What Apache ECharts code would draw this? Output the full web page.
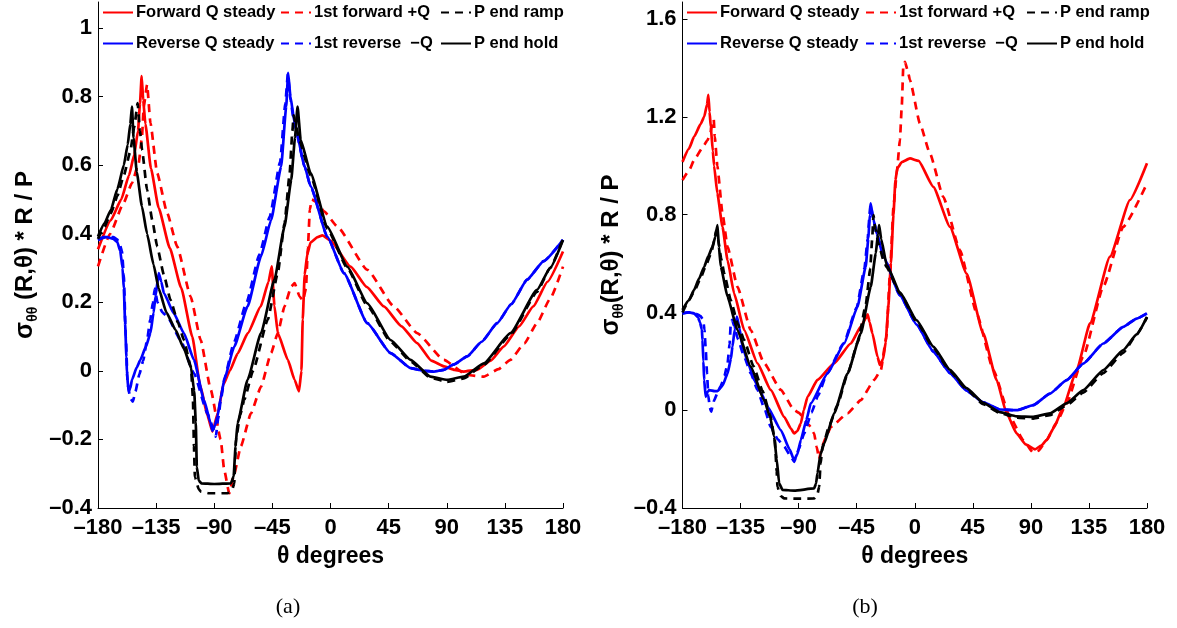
<!DOCTYPE html>
<html>
<head>
<meta charset="utf-8">
<script src="https://cdn.jsdelivr.net/npm/echarts@6/dist/echarts.min.js"></script>
<style>html,body{margin:0;padding:0;background:#fff}#c{width:1177px;height:628px}</style>
</head>
<body>
<div id="c"></div>
<script>
// ---------- tick labels ----------
const xTicks = [-180, -135, -90, -45, 0, 45, 90, 135, 180];
const yTicksA = [-0.4, -0.2, 0, 0.2, 0.4, 0.6, 0.8, 1];
const yTicksB = [-0.4, 0, 0.4, 0.8, 1.2, 1.6];
const seriesNames = ['Forward Q steady', '1st forward +Q', 'P end ramp', 'Reverse Q steady', '1st reverse  \u2212Q', 'P end hold'];
const captions = ['(a)', '(b)'];

// ---------- panel (a) values [theta, sigma*R/P] ----------
const aFwdSteady = [[-180,0.355],[-170,0.44],[-162,0.50],[-156,0.57],[-152,0.63],[-149,0.70],[-147.5,0.78],[-146.2,0.86],[-145,0.79],[-143.3,0.72],[-139,0.59],[-133,0.475],[-124.4,0.358],[-115.6,0.242],[-107,0.10],[-101,-0.04],[-95.3,-0.13],[-91.4,-0.177],[-87,-0.12],[-83,-0.04],[-78,0.0],[-72,0.05],[-64,0.11],[-54,0.188],[-48,0.26],[-45.5,0.305],[-43.4,0.19],[-40.8,0.11],[-33,0.032],[-27.8,-0.026],[-24.4,-0.06],[-22.5,0.0],[-21.5,0.15],[-20,0.28],[-18,0.34],[-15.4,0.375],[-10,0.39],[-6.3,0.395],[0,0.38],[15.6,0.304],[28,0.245],[41.3,0.188],[55,0.13],[67,0.081],[78,0.03],[88,0.013],[96,0.003],[103,-0.002],[113.5,0.003],[124,0.03],[134,0.071],[146,0.13],[157,0.188],[168,0.26],[180,0.348]];
const aFwdFirst = [[-180,0.305],[-170.6,0.40],[-160.2,0.49],[-153.7,0.548],[-148.5,0.606],[-146,0.68],[-144.6,0.77],[-142,0.835],[-139.4,0.723],[-134.2,0.577],[-126.4,0.46],[-118.7,0.363],[-108.3,0.217],[-100.5,0.09],[-92.7,-0.055],[-85,-0.2],[-82.3,-0.289],[-78.4,-0.357],[-74.5,-0.3],[-69.4,-0.22],[-61.6,-0.124],[-53.8,-0.046],[-46,0.052],[-40.8,0.11],[-35.6,0.188],[-30.4,0.246],[-27.8,0.256],[-23.9,0.217],[-21.3,0.205],[-19,0.24],[-17.5,0.36],[-16,0.47],[-14.5,0.50],[-10,0.49],[-5,0.465],[5.3,0.421],[28.5,0.295],[49.1,0.188],[67.1,0.11],[87.7,0.032],[105.8,-0.012],[118.7,-0.017],[130,0.005],[139.3,0.032],[150,0.08],[159.9,0.139],[170,0.21],[180,0.304]];
const aRevSteady = [[-180,0.382],[-176,0.39],[-173,0.39],[-168,0.385],[-165,0.375],[-162.8,0.35],[-161,0.30],[-160,0.24],[-159,0.139],[-158,0.04],[-157.6,-0.007],[-156.3,-0.06],[-155,-0.05],[-153.7,-0.026],[-150,0.01],[-147.2,0.032],[-143,0.07],[-139.4,0.11],[-137,0.17],[-135.5,0.217],[-133,0.285],[-131,0.26],[-129,0.227],[-121.3,0.168],[-113.5,0.11],[-105.7,0.032],[-97.9,-0.085],[-93,-0.15],[-91.4,-0.175],[-89.5,-0.16],[-87.5,-0.133],[-85,-0.08],[-82.3,-0.026],[-74.5,0.071],[-64.2,0.188],[-53.8,0.334],[-46,0.44],[-38.2,0.596],[-34.3,0.771],[-32.8,0.869],[-31,0.80],[-27.8,0.723],[-20,0.596],[-15.4,0.538],[-2.5,0.392],[10.4,0.285],[28.5,0.139],[46.5,0.052],[62,0.008],[72,0.0],[80,-0.002],[87.7,0.003],[95,0.018],[105.8,0.042],[117,0.085],[129,0.139],[140,0.195],[152.2,0.266],[165,0.32],[180,0.382]];
const aRevFirst = [[-180,0.382],[-174,0.39],[-168,0.39],[-164,0.38],[-161.5,0.35],[-160,0.28],[-158.5,0.10],[-157,-0.04],[-155,-0.08],[-153,-0.09],[-151,-0.06],[-148,-0.01],[-145,0.03],[-142,0.09],[-139.5,0.15],[-137.5,0.20],[-136,0.24],[-134,0.20],[-130,0.17],[-126.4,0.159],[-116.1,0.09],[-105.7,-0.007],[-95.3,-0.124],[-90.5,-0.17],[-88.8,-0.192],[-87,-0.14],[-84.9,-0.085],[-82,-0.02],[-75,0.08],[-65,0.20],[-55,0.34],[-47,0.45],[-39,0.61],[-35,0.78],[-33,0.865],[-31,0.79],[-28,0.72],[-20,0.596],[-15.4,0.538],[-2.5,0.392],[10.4,0.285],[28.5,0.139],[46.5,0.052],[62,0.008],[72,0.0],[80,-0.002],[87.7,0.003],[95,0.018],[105.8,0.042],[117,0.085],[129,0.139],[140,0.195],[152.2,0.266],[165,0.32],[180,0.382]];
const aPRamp = [[-180,0.385],[-175,0.42],[-170,0.46],[-165,0.51],[-160,0.57],[-155,0.64],[-152,0.71],[-149.3,0.781],[-147.5,0.70],[-145.9,0.645],[-142,0.528],[-138,0.44],[-134.2,0.363],[-129,0.28],[-123.9,0.207],[-118,0.14],[-113.5,0.09],[-108,0.01],[-106.5,-0.08],[-105.7,-0.22],[-105,-0.31],[-102,-0.345],[-100.5,-0.352],[-94,-0.357],[-79.7,-0.357],[-76,-0.345],[-74.5,-0.328],[-73.8,-0.26],[-73.2,-0.2],[-70,-0.13],[-66.8,-0.085],[-60,0.0],[-48.6,0.149],[-40.8,0.285],[-35.6,0.43],[-31.7,0.572],[-29.5,0.70],[-28.5,0.745],[-27,0.72],[-24,0.67],[-15.4,0.57],[-2.5,0.415],[13,0.30],[28.5,0.19],[46.5,0.085],[62,0.028],[77.4,-0.02],[90.3,-0.032],[103.2,-0.022],[118.7,0.018],[139.3,0.105],[159.9,0.23],[170,0.30],[180,0.385]];
const aPHold = [[-180,0.392],[-175,0.43],[-170,0.47],[-165,0.53],[-160,0.60],[-157,0.66],[-155,0.72],[-153.7,0.771],[-152.5,0.68],[-150,0.58],[-146,0.48],[-142,0.40],[-137,0.31],[-133,0.24],[-127,0.17],[-120,0.12],[-113.5,0.065],[-108,0.01],[-105.5,-0.06],[-104.3,-0.15],[-103.5,-0.28],[-102,-0.32],[-100,-0.328],[-90,-0.33],[-77.1,-0.328],[-75,-0.308],[-73.5,-0.22],[-72,-0.153],[-64.2,-0.026],[-53.8,0.11],[-43.4,0.266],[-35.6,0.421],[-30.4,0.557],[-27.5,0.68],[-25.5,0.771],[-23.1,0.674],[-15.4,0.577],[-2.5,0.421],[13,0.304],[28.5,0.197],[46.5,0.09],[62,0.032],[77.4,-0.017],[90.3,-0.026],[103.2,-0.017],[118.7,0.022],[139.3,0.11],[159.9,0.236],[170,0.30],[180,0.382]];

// ---------- panel (b) values ----------
const bFwdSteady = [[-180,1.016],[-175,1.07],[-171,1.119],[-166,1.17],[-163.2,1.20],[-161,1.25],[-160,1.29],[-159,1.22],[-158.1,1.16],[-156.5,1.06],[-155.5,1.0],[-153,0.887],[-149,0.75],[-145.1,0.614],[-140,0.478],[-132.2,0.328],[-121.9,0.192],[-111.6,0.083],[-101.2,-0.027],[-96,-0.075],[-93.5,-0.095],[-91,-0.085],[-88.3,-0.054],[-86,0.0],[-83.1,0.055],[-75.4,0.124],[-62.5,0.192],[-49.6,0.273],[-41.8,0.342],[-38,0.375],[-36.5,0.392],[-35,0.36],[-32.8,0.314],[-28.9,0.219],[-27,0.185],[-24.5,0.21],[-22.5,0.28],[-20.5,0.42],[-18.5,0.60],[-16.5,0.80],[-15,0.94],[-13.5,0.99],[-10,1.015],[-3.7,1.03],[3,1.02],[14.4,0.914],[27.3,0.75],[40.2,0.559],[53.1,0.314],[63.5,0.123],[71.2,-0.013],[79,-0.095],[86,-0.14],[93.2,-0.16],[98,-0.145],[102.2,-0.122],[108,-0.07],[115.1,0.014],[125.5,0.164],[135.8,0.355],[151.3,0.628],[166.8,0.86],[180,1.01]];
const bFwdFirst = [[-180,0.941],[-175,0.98],[-171,1.023],[-165,1.07],[-160.6,1.105],[-158.5,1.13],[-156.8,1.173],[-155.8,1.19],[-155,1.12],[-153,1.0],[-149,0.805],[-145.1,0.669],[-137.4,0.505],[-127.1,0.328],[-116.7,0.192],[-103.8,0.083],[-93.5,0.001],[-90,-0.01],[-82,-0.06],[-78,-0.095],[-76,-0.15],[-74.1,-0.2],[-72,-0.15],[-68,-0.1],[-65,-0.068],[-52.1,-0.013],[-41.8,0.041],[-31.5,0.123],[-26.3,0.164],[-22,0.30],[-19.2,0.56],[-16.5,0.83],[-14,0.969],[-11.5,1.105],[-10,1.25],[-8.9,1.405],[-7.6,1.425],[-5.5,1.39],[-3.7,1.35],[4,1.173],[11.8,1.05],[22.1,0.873],[35,0.655],[48,0.396],[60.9,0.164],[73.8,-0.027],[84.1,-0.122],[91.9,-0.174],[96,-0.165],[102.2,-0.122],[110,-0.05],[117.7,0.028],[130.6,0.219],[146.1,0.505],[161.6,0.75],[180,0.928]];
const bRevSteady = [[-180,0.396],[-175,0.40],[-171,0.396],[-168,0.38],[-166.5,0.36],[-165,0.33],[-164.5,0.287],[-163.8,0.20],[-163.2,0.124],[-162,0.055],[-160.5,0.075],[-159.3,0.082],[-155,0.078],[-153,0.078],[-149,0.10],[-145.1,0.15],[-142.5,0.21],[-141.3,0.26],[-139.5,0.33],[-137.9,0.383],[-136,0.34],[-133.5,0.26],[-129,0.19],[-124.5,0.124],[-119,0.07],[-114.1,0.014],[-103.8,-0.081],[-97,-0.16],[-93.5,-0.204],[-91,-0.18],[-88.3,-0.122],[-84,-0.04],[-80.6,0.028],[-67.7,0.15],[-54.7,0.273],[-44.4,0.423],[-38,0.587],[-36,0.70],[-34.8,0.80],[-34.2,0.846],[-32,0.78],[-29.5,0.723],[-24.4,0.63],[-11.5,0.47],[1.5,0.35],[14.4,0.24],[27.3,0.152],[40.2,0.08],[53.1,0.032],[66.1,0.003],[79,0.0],[91.9,0.021],[104.8,0.068],[117.7,0.123],[130.6,0.191],[146.1,0.273],[161.6,0.341],[172,0.375],[180,0.396]];
const bRevFirst = [[-180,0.396],[-175,0.40],[-170,0.396],[-166,0.385],[-164,0.37],[-163,0.33],[-162,0.25],[-161,0.15],[-160,0.06],[-158.8,0.01],[-157.7,-0.006],[-156.5,0.02],[-155.5,0.04],[-153,0.07],[-150.3,0.10],[-147.5,0.14],[-145.1,0.19],[-143.5,0.27],[-142.6,0.355],[-141.5,0.37],[-140,0.345],[-137,0.29],[-132.2,0.219],[-127,0.15],[-121.9,0.083],[-116.7,0.01],[-111.6,-0.068],[-106,-0.12],[-101.2,-0.149],[-96,-0.19],[-93.5,-0.211],[-90,-0.16],[-85.7,-0.095],[-80,-0.01],[-75,0.06],[-68,0.15],[-55,0.275],[-45,0.42],[-39,0.58],[-36.5,0.70],[-35,0.80],[-34.3,0.84],[-32,0.78],[-29.5,0.723],[-24.4,0.63],[-11.5,0.47],[1.5,0.35],[14.4,0.24],[27.3,0.152],[40.2,0.08],[53.1,0.032],[66.1,0.003],[79,0.0],[91.9,0.021],[104.8,0.068],[117.7,0.123],[130.6,0.191],[146.1,0.273],[161.6,0.341],[172,0.375],[180,0.396]];
const bPRamp = [[-180,0.40],[-175,0.45],[-171,0.485],[-166,0.54],[-162,0.59],[-158,0.64],[-155.5,0.69],[-154,0.735],[-152.5,0.70],[-150,0.62],[-147.7,0.56],[-142.6,0.45],[-137,0.35],[-132.2,0.287],[-125,0.18],[-118,0.08],[-112,-0.02],[-108.5,-0.12],[-107,-0.25],[-106.4,-0.313],[-104,-0.35],[-101.2,-0.361],[-90,-0.362],[-78,-0.361],[-75.5,-0.345],[-74.1,-0.313],[-73,-0.22],[-71.5,-0.149],[-66,-0.06],[-60,0.02],[-52,0.15],[-44,0.28],[-38,0.43],[-34.5,0.58],[-33,0.70],[-32,0.798],[-30.5,0.74],[-28,0.68],[-24,0.61],[-21.8,0.585],[-11.5,0.478],[1.5,0.362],[14.4,0.255],[27.3,0.16],[40.2,0.085],[53.1,0.025],[66.1,-0.012],[79,-0.03],[91.9,-0.034],[104.8,-0.02],[117.7,0.02],[130.6,0.072],[146.1,0.152],[161.6,0.235],[172,0.31],[180,0.38]];
const bPHold = [[-180,0.41],[-175,0.45],[-171,0.492],[-167,0.54],[-163.2,0.587],[-160,0.63],[-156.8,0.669],[-154.5,0.71],[-152.9,0.757],[-151.8,0.67],[-150.3,0.587],[-145.1,0.464],[-137.4,0.328],[-127.1,0.178],[-116.7,0.041],[-112,-0.03],[-109,-0.108],[-107,-0.2],[-105.1,-0.299],[-102.5,-0.326],[-93.5,-0.329],[-78,-0.32],[-76.5,-0.30],[-75.4,-0.258],[-73,-0.18],[-70.2,-0.136],[-62.5,-0.013],[-52.1,0.15],[-41.8,0.314],[-34.1,0.505],[-30.2,0.642],[-28.5,0.72],[-27.6,0.757],[-26,0.70],[-21.8,0.595],[-11.5,0.482],[1.5,0.368],[14.4,0.26],[27.3,0.165],[40.2,0.09],[53.1,0.03],[66.1,-0.008],[79,-0.025],[91.9,-0.027],[104.8,-0.013],[117.7,0.028],[130.6,0.082],[146.1,0.164],[161.6,0.246],[172,0.31],[180,0.382]];

// ---------- chart ----------
const FONT = '"Liberation Sans", Arial, sans-serif';
const fmt = v => {
  const r = Math.round(v * 100) / 100;
  return String(r).replace('-', '\u2013');
};
const DASH = [8, 6];
const LW = 2.7;
const styles = {
  'Forward Q steady': { color: '#ff0000', type: 'solid' },
  '1st forward +Q': { color: '#ff0000', type: DASH },
  'Reverse Q steady': { color: '#0000ff', type: 'solid' },
  '1st reverse  \u2212Q': { color: '#0000ff', type: DASH },
  'P end ramp': { color: '#000000', type: DASH },
  'P end hold': { color: '#000000', type: 'solid' }
};
function mk(name, data, idx) {
  const s = styles[name];
  return {
    type: 'line', name, data, xAxisIndex: idx, yAxisIndex: idx,
    symbol: 'none', showSymbol: false, smooth: 0.15, smoothMonotone: 'x',
    color: s.color,
    lineStyle: { color: s.color, width: LW, type: s.type },
    emphasis: { disabled: true }, z: 2
  };
}
function xAx(idx) {
  return {
    type: 'value', gridIndex: idx, min: -180, max: 180, interval: 45,
    name: 'θ degrees', nameLocation: 'middle', nameGap: 37,
    nameTextStyle: { fontFamily: FONT, fontWeight: 'bold', fontSize: 23, color: '#000' },
    axisLine: { show: true, onZero: false, lineStyle: { color: '#000', width: 1 } },
    axisTick: { show: true, inside: true, length: 5, lineStyle: { color: '#000' }, customValues: xTicks },
    axisLabel: { customValues: xTicks, formatter: fmt, margin: 9, fontFamily: FONT, fontWeight: 'bold', fontSize: 22, color: '#000' },
    splitLine: { show: false }
  };
}
function yAx(idx, ticks, min, max, interval, name, gap) {
  return {
    type: 'value', gridIndex: idx, min, max, interval,
    name, nameLocation: 'middle', nameGap: gap, nameRotate: 90,
    nameTextStyle: {
      fontFamily: FONT, fontWeight: 'bold', fontSize: 23, color: '#000', padding: [0, 0, 0, 0],
      rich: {
        s: { fontFamily: FONT, fontWeight: 'bold', fontSize: 25, lineHeight: 30, color: '#000', verticalAlign: 'middle' },
        b: { fontFamily: FONT, fontWeight: 'bold', fontSize: 14, lineHeight: 14, color: '#000', verticalAlign: 'bottom' },
        n: { fontFamily: FONT, fontWeight: 'bold', fontSize: 24, lineHeight: 30, color: '#000', verticalAlign: 'middle' }
      }
    },
    axisLine: { show: true, onZero: false, lineStyle: { color: '#000', width: 1 } },
    axisTick: { show: true, inside: true, length: 5, lineStyle: { color: '#000' }, customValues: ticks },
    axisLabel: { customValues: ticks, formatter: fmt, margin: 6, fontFamily: FONT, fontWeight: 'bold', fontSize: 22, color: '#000' },
    splitLine: { show: false }
  };
}
function leg(left, names) {
  return {
    left, top: 4, orient: 'vertical', itemGap: 14, itemWidth: 30, itemHeight: 14,
    padding: 0, selectedMode: false, data: names,
    itemStyle: { opacity: 0 },
    textStyle: { fontFamily: FONT, fontWeight: 'bold', fontSize: 16.5, lineHeight: 16, color: '#000', padding: [0, 0, 0, -2] }
  };
}
const chart = echarts.init(document.getElementById('c'), null, { renderer: 'canvas' });
chart.setOption({
  animation: false,
  backgroundColor: '#fff',
  grid: [
    { left: 98, right: 1177 - 563, top: 2, bottom: 120, containLabel: false },
    { left: 682.5, right: 1177 - 1147, top: 2, bottom: 120, containLabel: false }
  ],
  xAxis: [xAx(0), xAx(1)],
  yAxis: [
    yAx(0, yTicksA, -0.4, 1.076, 0.2, '{s|σ}{b|θθ}{n| (R,θ) * R / P}', 58),
    yAx(1, yTicksB, -0.4, 1.67, 0.4, '{s|σ}{b|θθ}{n|(R,θ) * R / P}', 56)
  ],
  legend: [
    leg(102, [seriesNames[0], seriesNames[3]]),
    leg(280, [seriesNames[1], seriesNames[4]]),
    leg(440, [seriesNames[2], seriesNames[5]]),
    leg(686, [seriesNames[0], seriesNames[3]]),
    leg(865, [seriesNames[1], seriesNames[4]]),
    leg(1026, [seriesNames[2], seriesNames[5]])
  ],
  graphic: [
    { type: 'text', x: 288, y: 607, style: { text: captions[0], font: '22px "Liberation Serif", serif', fill: '#000', align: 'center', verticalAlign: 'middle' } },
    { type: 'text', x: 865, y: 607, style: { text: captions[1], font: '22px "Liberation Serif", serif', fill: '#000', align: 'center', verticalAlign: 'middle' } }
  ],
  series: [
    mk(seriesNames[0], aFwdSteady, 0), mk(seriesNames[1], aFwdFirst, 0),
    mk(seriesNames[3], aRevSteady, 0), mk(seriesNames[4], aRevFirst, 0),
    mk(seriesNames[2], aPRamp, 0), mk(seriesNames[5], aPHold, 0),
    mk(seriesNames[0], bFwdSteady, 1), mk(seriesNames[1], bFwdFirst, 1),
    mk(seriesNames[3], bRevSteady, 1), mk(seriesNames[4], bRevFirst, 1),
    mk(seriesNames[2], bPRamp, 1), mk(seriesNames[5], bPHold, 1)
  ]
});
</script>
</body>
</html>
